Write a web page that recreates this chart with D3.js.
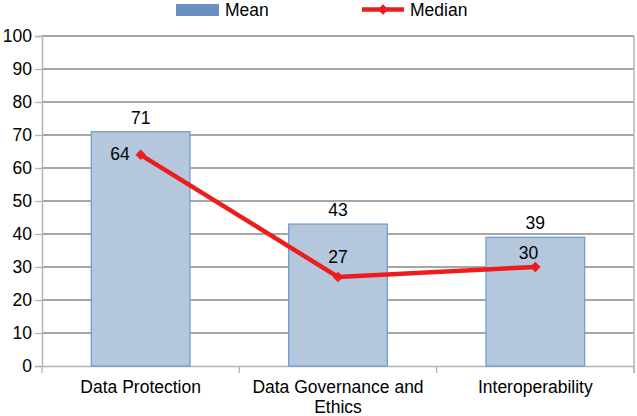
<!DOCTYPE html>
<html><head><meta charset="utf-8">
<script src="https://cdn.jsdelivr.net/npm/d3@7"></script>
<style>body{margin:0;background:#fff}svg{display:block}text{font-family:"Liberation Sans",Arial,sans-serif}</style>
</head><body>
<svg id="c" width="637" height="416"></svg>
<script>
const categories = ["Data Protection", "Data Governance and Ethics", "Interoperability"];
const categoryLines = [["Data Protection"], ["Data Governance and", "Ethics"], ["Interoperability"]];
const meanValues = [71, 43, 39];
const medianValues = [64, 27, 30];
const yTicks = [0,10,20,30,40,50,60,70,80,90,100];

const FS = 17.5;
const svg = d3.select("#c");
const L = 42, R = 634, T = 36, B = 366;
const x = d3.scaleBand().domain(categories).range([L, R]).padding(0);
const y = d3.scaleLinear().domain([0, 100]).range([B, T]);

// gridlines
svg.append("g").selectAll("line").data(yTicks.filter(d => d > 0)).join("line")
  .attr("x1", L).attr("x2", R).attr("y1", d => y(d)).attr("y2", d => y(d))
  .attr("stroke", "#888").attr("stroke-width", 1.3);

// y axis
const yAxis = svg.append("g").attr("transform", `translate(${L},0)`)
  .call(d3.axisLeft(y).tickValues(yTicks).tickSize(7).tickPadding(3));
yAxis.select(".domain").attr("stroke", "#b3b3b3").attr("stroke-width", 1.5);
yAxis.selectAll(".tick line").attr("stroke", "#b3b3b3").attr("stroke-width", 1.3);
yAxis.selectAll(".tick text").attr("font-size", FS).attr("fill", "#000").attr("font-family", "Liberation Sans, Arial, sans-serif");

// right border
svg.append("line").attr("x1", R).attr("x2", R).attr("y1", T).attr("y2", B + 7)
  .attr("stroke", "#b3b3b3").attr("stroke-width", 1.5);

// x axis
const xAxis = svg.append("g").attr("transform", `translate(0,${B})`)
  .call(d3.axisBottom(x).tickSize(0).tickFormat(""));
xAxis.select(".domain").attr("stroke", "#b3b3b3").attr("stroke-width", 1.5);
const bounds = categories.map(c => x(c)).concat([R]);
svg.append("g").selectAll("line").data(bounds).join("line")
  .attr("x1", d => d).attr("x2", d => d).attr("y1", B).attr("y2", B + 7)
  .attr("stroke", "#b3b3b3").attr("stroke-width", 1.3);

svg.append("g").selectAll("text").data(categories).join("text")
  .attr("x", d => x(d) + x.bandwidth() / 2).attr("y", 393)
  .attr("text-anchor", "middle").attr("font-size", FS).attr("fill", "#000")
  .each(function(d, i) {
    const t = d3.select(this);
    categoryLines[i].forEach((ln, j) => {
      t.append("tspan").attr("x", x(d) + x.bandwidth() / 2).attr("dy", j === 0 ? 0 : 20).text(ln);
    });
  });

// bars
const bw = x.bandwidth() * 0.5;
const cx = c => x(c) + x.bandwidth() / 2;
svg.append("g").selectAll("rect").data(meanValues).join("rect")
  .attr("x", (d, i) => cx(categories[i]) - bw / 2).attr("width", bw)
  .attr("y", d => y(d)).attr("height", d => B - y(d))
  .attr("fill", "#b4c7dc").attr("stroke", "#729fcf").attr("stroke-width", 1.3);

svg.append("g").selectAll("text").data(meanValues).join("text")
  .attr("x", (d, i) => cx(categories[i])).attr("y", d => y(d) - 8)
  .attr("text-anchor", "middle").attr("font-size", FS).attr("fill", "#000").text(d => d);

// median line
const line = d3.line().x((d, i) => cx(categories[i])).y(d => y(d));
svg.append("path").datum(medianValues).attr("d", line)
  .attr("fill", "none").attr("stroke", "#ee1c1c").attr("stroke-width", 4.5);
svg.append("g").selectAll("path").data(medianValues).join("path")
  .attr("d", d3.symbol(d3.symbolDiamond2, 70))
  .attr("transform", (d, i) => `translate(${cx(categories[i])},${y(d)})`)
  .attr("fill", "#ee1c1c");

const medLabelAnchor = ["end", "middle", "end"];
const medLabelDx = [-11, 0, 3];
const medLabelDy = [5, -14, -8];
svg.append("g").selectAll("text").data(medianValues).join("text")
  .attr("x", (d, i) => cx(categories[i]) + medLabelDx[i])
  .attr("y", (d, i) => y(d) + medLabelDy[i])
  .attr("text-anchor", (d, i) => medLabelAnchor[i])
  .attr("font-size", FS).attr("fill", "#000").text(d => d);

// legend
const lg = svg.append("g");
lg.append("rect").attr("x", 176).attr("y", 4).attr("width", 43).attr("height", 12).attr("fill", "#6a8fc0");
lg.append("text").attr("x", 225).attr("y", 16).attr("font-size", FS).attr("fill", "#000").text("Mean");
lg.append("line").attr("x1", 362).attr("x2", 404).attr("y1", 9.5).attr("y2", 9.5).attr("stroke", "#ee1c1c").attr("stroke-width", 4.5);
lg.append("path").attr("d", d3.symbol(d3.symbolDiamond2, 70)).attr("transform", "translate(383,9.5)").attr("fill", "#ee1c1c");
lg.append("text").attr("x", 410).attr("y", 16).attr("font-size", FS).attr("fill", "#000").text("Median");
</script>
</body></html>
